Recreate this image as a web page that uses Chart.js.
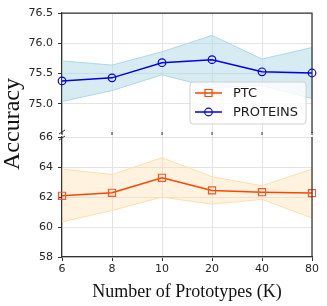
<!DOCTYPE html>
<html>
<head>
<meta charset="utf-8">
<script src="https://cdn.jsdelivr.net/npm/chart.js@4.4.1/dist/chart.umd.min.js"></script>
<style>
  body { margin: 0; background: #fff; }
  #wrap { width: 327px; height: 306px; }
</style>
</head>
<body>
<div id="wrap"><canvas id="myChart" width="327" height="306"></canvas></div>
<script>
// dados
const prototypes = ['6', '8', '10', '20', '40', '80'];

const ptcMean  = [62.08, 62.28, 63.28, 62.44, 62.32, 62.26];
const ptcUpper = [63.86, 63.50, 64.62, 63.35, 62.75, 63.86];
const ptcLower = [60.34, 61.10, 61.99, 61.52, 61.84, 60.60];

const proteinsMean  = [75.38, 75.43, 75.68, 75.73, 75.53, 75.51];
const proteinsUpper = [75.71, 75.64, 75.86, 76.13, 75.74, 75.93];
const proteinsLower = [75.04, 75.22, 75.48, 75.27, 75.30, 75.09];

const topTicks = [75.0, 75.5, 76.0, 76.5];
const bottomTicks = [58, 60, 62, 64, 66];

const tickFont = { family: "'DejaVu Sans', sans-serif", size: 11 };
const gridColor = '#e3e3e3';
const spineColor = '#333';

// eixo quebrado: molduras, marcas de quebra, legenda e títulos
const brokenAxisPlugin = {
    id: 'brokenAxis',
    afterDraw(chart) {
        const ctx = chart.ctx;
        const area = chart.chartArea;
        const yTop = chart.scales.yTop;
        const yBot = chart.scales.yBot;
        const x = chart.scales.x;
        ctx.save();
        ctx.strokeStyle = spineColor;
        ctx.lineWidth = 1.25;
        ctx.beginPath();
        // topo e lado direito do painel de cima
        ctx.moveTo(area.left, yTop.top);
        ctx.lineTo(area.right, yTop.top);
        ctx.lineTo(area.right, yTop.bottom);
        // lado direito do painel de baixo
        ctx.moveTo(area.right, yBot.top);
        ctx.lineTo(area.right, yBot.bottom);
        ctx.stroke();

        // pequenas marcas do eixo x embaixo do painel de cima
        ctx.lineWidth = 1;
        ctx.beginPath();
        x.ticks.forEach((t, i) => {
            const px = x.getPixelForTick(i);
            ctx.moveTo(px, yTop.bottom - 1);
            ctx.lineTo(px, yTop.bottom + 2);
        });
        ctx.stroke();

        // marcas de quebra
        ctx.lineWidth = 1;
        ctx.beginPath();
        ctx.moveTo(area.left - 3, yTop.bottom + 1);
        ctx.lineTo(area.left + 3, yTop.bottom - 3);
        ctx.moveTo(area.left - 3, yBot.top + 3);
        ctx.lineTo(area.left + 3, yBot.top - 1);
        ctx.stroke();

        // legenda
        const lx = 190, ly = 82, lw = 116, lh = 42;
        ctx.beginPath();
        ctx.roundRect(lx, ly, lw, lh, 3);
        ctx.fillStyle = 'rgba(255,255,255,0.8)';
        ctx.fill();
        ctx.strokeStyle = '#d0d0d0';
        ctx.lineWidth = 1;
        ctx.stroke();

        const items = [
            { label: 'PTC', color: '#ff4500', marker: 'rect', y: 93 },
            { label: 'PROTEINS', color: '#0000ee', marker: 'circle', y: 112 }
        ];
        items.forEach(it => {
            ctx.strokeStyle = it.color;
            ctx.lineWidth = 1.5;
            ctx.beginPath();
            ctx.moveTo(195, it.y);
            ctx.lineTo(222, it.y);
            ctx.stroke();
            ctx.lineWidth = 1.2;
            ctx.beginPath();
            if (it.marker === 'rect') {
                ctx.rect(205, it.y - 3.5, 7, 7);
            } else {
                ctx.arc(208.5, it.y, 3.8, 0, Math.PI * 2);
            }
            ctx.stroke();
            ctx.fillStyle = '#1a1a1a';
            ctx.font = "13px 'DejaVu Sans', sans-serif";
            ctx.textAlign = 'left';
            ctx.textBaseline = 'middle';
            ctx.fillText(it.label, 233, it.y + 0.5);
        });

        // títulos dos eixos
        ctx.fillStyle = '#111';
        ctx.font = "18px 'Liberation Serif', serif";
        ctx.textAlign = 'center';
        ctx.textBaseline = 'alphabetic';
        ctx.fillText('Number of Prototypes (K)', (area.left + area.right) / 2, 296.5);

        ctx.translate(18.5, 124);
        ctx.rotate(-Math.PI / 2);
        ctx.font = "24px 'Liberation Serif', serif";
        ctx.fillText('Accuracy', 0, 0);
        ctx.restore();
    }
};

const fixWidth = axis => { axis.width = 62; };

new Chart(document.getElementById('myChart'), {
    type: 'line',
    data: {
        labels: prototypes,
        datasets: [
            {
                label: 'PTC',
                data: ptcMean,
                yAxisID: 'yBot',
                borderColor: '#ff4500',
                borderWidth: 1.5,
                pointStyle: 'rect',
                pointRadius: 5,
                pointBorderWidth: 1.2,
                pointBorderColor: '#f2592a',
                pointBackgroundColor: 'rgba(0,0,0,0)',
                tension: 0,
                order: 0
            },
            {
                label: 'PROTEINS',
                data: proteinsMean,
                yAxisID: 'yTop',
                borderColor: '#0000ee',
                borderWidth: 1.5,
                pointStyle: 'circle',
                pointRadius: 3.8,
                pointBorderWidth: 1.2,
                pointBorderColor: '#0000ee',
                pointBackgroundColor: 'rgba(0,0,0,0)',
                tension: 0,
                order: 0
            },
            {
                label: 'proteins upper',
                data: proteinsUpper,
                yAxisID: 'yTop',
                borderColor: '#add8e6',
                borderWidth: 1,
                backgroundColor: 'rgba(173,216,230,0.5)',
                pointRadius: 0,
                fill: '+1',
                order: 2
            },
            {
                label: 'proteins lower',
                data: proteinsLower,
                yAxisID: 'yTop',
                borderColor: '#add8e6',
                borderWidth: 1,
                pointRadius: 0,
                fill: false,
                order: 2
            },
            {
                label: 'ptc upper',
                data: ptcUpper,
                yAxisID: 'yBot',
                borderColor: '#ffdfae',
                borderWidth: 1,
                backgroundColor: 'rgba(255,222,173,0.4)',
                pointRadius: 0,
                fill: '+1',
                order: 2
            },
            {
                label: 'ptc lower',
                data: ptcLower,
                yAxisID: 'yBot',
                borderColor: '#ffdfae',
                borderWidth: 1,
                pointRadius: 0,
                fill: false,
                order: 2
            }
        ]
    },
    options: {
        responsive: false,
        animation: false,
        layout: { padding: { left: 0, right: 15, top: 13, bottom: 0 } },
        plugins: {
            legend: { display: false },
            tooltip: { enabled: false }
        },
        scales: {
            x: {
                type: 'category',
                offset: false,
                afterFit: axis => { axis.height = 49; },
                grid: { color: gridColor, tickColor: spineColor, tickLength: 4 },
                border: { color: spineColor, width: 1.25 },
                ticks: { color: '#262626', font: tickFont, padding: 2, maxRotation: 0 }
            },
            yTop: {
                type: 'linear',
                position: 'left',
                stack: 'broken',
                stackWeight: 1,
                weight: 3,
                min: 74.52,
                max: 76.5,
                afterFit: fixWidth,
                afterBuildTicks: axis => { axis.ticks = topTicks.map(v => ({ value: v })); },
                grid: { color: gridColor, tickColor: spineColor, tickLength: 4 },
                border: { color: spineColor, width: 1.25 },
                ticks: { color: '#262626', font: tickFont, padding: 5, callback: v => v.toFixed(1) }
            },
            yGap: {
                type: 'linear',
                position: 'left',
                stack: 'broken',
                stackWeight: 4 / 120,
                weight: 2,
                min: 0,
                max: 1,
                afterFit: fixWidth,
                grid: { display: false },
                border: { display: false },
                ticks: { display: false }
            },
            yBot: {
                type: 'linear',
                position: 'left',
                stack: 'broken',
                stackWeight: 1,
                weight: 1,
                min: 58,
                max: 66,
                afterFit: fixWidth,
                afterBuildTicks: axis => { axis.ticks = bottomTicks.map(v => ({ value: v })); },
                grid: { color: gridColor, tickColor: spineColor, tickLength: 4 },
                border: { color: spineColor, width: 1.25 },
                ticks: { color: '#262626', font: tickFont, padding: 5 }
            }
        }
    },
    plugins: [brokenAxisPlugin]
});
</script>
</body>
</html>
